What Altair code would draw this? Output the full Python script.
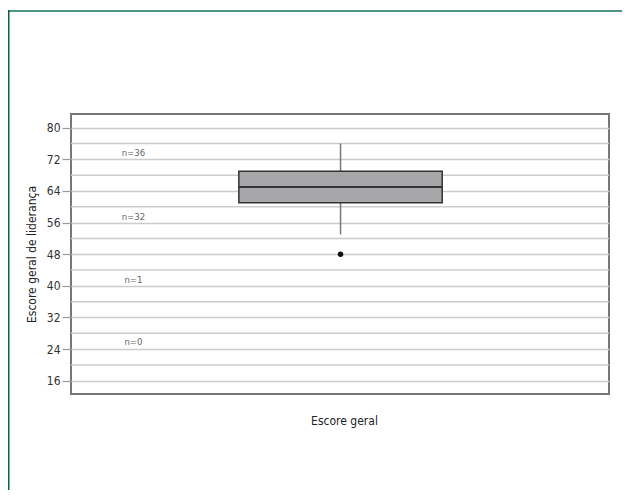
import altair as alt
import pandas as pd

# Box-plot statistics
q1 = [61]
median = [65]
q3 = [69]
whisker_low = [53]
whisker_high = [76]
outliers = [48]

# Count annotations
n_labels = ["n=36", "n=32", "n=1", "n=0"]
n_y = [73.7, 57.5, 41.6, 25.7]

# Axis values
major_ticks = [16, 24, 32, 40, 48, 56, 64, 72, 80]
minor_grid = [20, 28, 36, 44, 52, 60, 68, 76]

FONT = "DejaVu Sans Condensed, Liberation Sans, sans-serif"

box_df = pd.DataFrame({
    "x0": [0.312], "x1": [0.690], "xc": [0.501],
    "q1": q1, "median": median, "q3": q3,
    "lo": whisker_low, "hi": whisker_high,
})
out_df = pd.DataFrame({"xc": [0.501] * len(outliers), "v": outliers})
n_df = pd.DataFrame({"x": [0.116] * len(n_labels), "y": n_y, "t": n_labels})
grid_df = pd.DataFrame({"g": minor_grid})

xs = alt.Scale(domain=[0, 1])
ys = alt.Scale(domain=[12.64, 83.47], nice=False, zero=False)

xaxis = alt.Axis(title="Escore geral", labels=False, ticks=False, domain=False,
                 grid=False, titlePadding=21, titleFont=FONT, titleFontSize=12,
                 titleFontWeight="normal", titleColor="#222", titleX=273)
yaxis = alt.Axis(title="Escore geral de liderança", values=major_ticks,
                 labelOverlap=False,
                 grid=True, gridColor="#cccccc", gridWidth=1.5,
                 tickColor="#999999", tickSize=9, tickWidth=1.2,
                 labelFont=FONT, labelFontSize=12, labelColor="#333",
                 labelPadding=2, domain=False,
                 titleFont=FONT, titleFontSize=12, titleFontWeight="normal",
                 titleColor="#222", titlePadding=8)


def X(field):
    return alt.X(field, type="quantitative", scale=xs, axis=xaxis)


def Y(field):
    return alt.Y(field, type="quantitative", scale=ys, axis=yaxis)


minor = alt.Chart(grid_df).mark_rule(color="#cccccc", strokeWidth=1.5).encode(
    y=Y("g")
)
whisk_hi = alt.Chart(box_df).mark_rule(color="#777777", strokeWidth=1.5).encode(
    x=X("xc"), y=Y("q3"), y2="hi:Q"
)
whisk_lo = alt.Chart(box_df).mark_rule(color="#777777", strokeWidth=1.5).encode(
    x=X("xc"), y=Y("lo"), y2="q1:Q"
)
box = alt.Chart(box_df).mark_rect(fill="#a7a7aa", stroke="#333333", strokeWidth=1.5).encode(
    x=X("x0"), x2="x1:Q", y=Y("q1"), y2="q3:Q",
)
med = alt.Chart(box_df).mark_rule(color="#333333", strokeWidth=2).encode(
    x=X("x0"), x2="x1:Q", y=Y("median")
)
out = alt.Chart(out_df).mark_circle(color="#111111", size=30, opacity=1).encode(
    x=X("xc"), y=Y("v")
)
ntext = alt.Chart(n_df).mark_text(font=FONT, fontSize=9.5, color="#666666").encode(
    x=X("x"), y=Y("y"), text="t:N"
)

frame_top = alt.Chart(box_df).mark_rule(color="#4e9484", strokeWidth=2).encode(
    x=alt.value(-62), x2=alt.value(570), y=alt.value(-103)
)
frame_left = alt.Chart(box_df).mark_rule(color="#0d5e4b", strokeWidth=2).encode(
    x=alt.value(-62.5), y=alt.value(-104), y2=alt.value(420)
)

chart = alt.layer(
    minor, whisk_hi, whisk_lo, box, med, out, ntext, frame_top, frame_left
).properties(
    width=538, height=280,
    background="white",
    autosize=alt.AutoSizeParams(type="none"),
    padding={"left": 63, "top": 106, "right": 13, "bottom": 96},
).configure_view(
    stroke="#777777", strokeWidth=2
)

chart.save("out.html", embed_options={"renderer": "svg", "actions": False})
